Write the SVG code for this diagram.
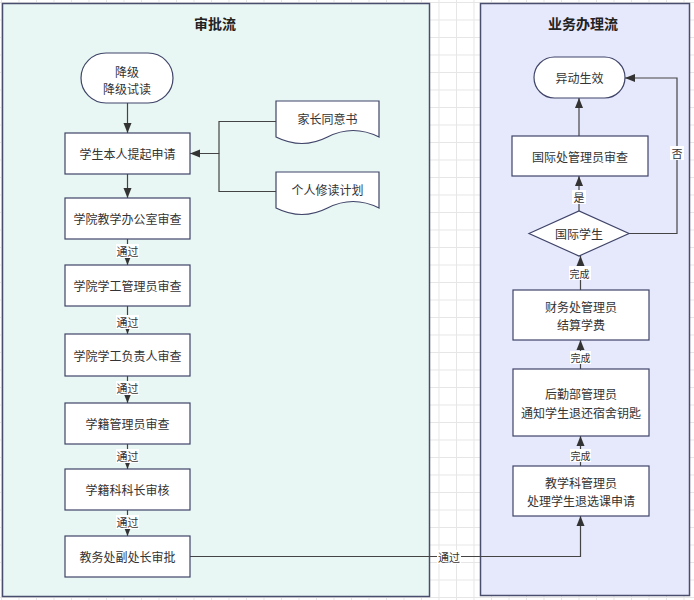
<svg xmlns="http://www.w3.org/2000/svg" width="694" height="600" viewBox="0 0 694 600">
<defs>
<pattern id="grid" patternUnits="userSpaceOnUse" x="1" y="2" width="17.5" height="17.5">
<path d="M0 0.5H17.5M0.5 0V17.5" stroke="#e6e6e6" stroke-width="1" fill="none"/>
</pattern>
<marker id="arr" markerUnits="userSpaceOnUse" markerWidth="10" markerHeight="10" viewBox="0 0 10 10" refX="10" refY="5" orient="auto">
<path d="M0 1L10 5L0 9Z" fill="#333"/>
</marker>
</defs>
<style>
text{font-family:"Noto Sans CJK SC","Noto Sans",sans-serif;fill:#333;text-anchor:middle;dominant-baseline:central}
.t{font-size:12px}
.title{font-size:14px;font-weight:bold;fill:#222}
.lbl{font-size:11px}
.lbs{font-size:10px}
.box{fill:#fff;stroke:#3f4468;stroke-width:1.2}
.lane{stroke:#4a4e6e;stroke-width:1.5}
.e{fill:none;stroke:#444;stroke-width:1.2}
.bg{fill:#fff}
</style>
<rect width="694" height="600" fill="#fff"/>
<rect width="694" height="600" fill="url(#grid)"/>

<g id="lane-approval">
<rect class="lane" x="2.5" y="3.5" width="427" height="593" fill="#e8f7f3"/>
<text class="title" x="215" y="23">审批流</text>
</g>
<g id="lane-business">
<rect class="lane" x="480.5" y="3.5" width="209" height="592" fill="#e6e8fc"/>
<text class="title" x="583" y="23">业务办理流</text>
</g>

<g id="connectors">
<path class="e" d="M127.5 103V133" marker-end="url(#arr)"/>
<path class="e" d="M276 121.5H219V153.5H190" marker-end="url(#arr)"/>
<path class="e" d="M276 191.5H219V153.5"/>
<path class="e" d="M127.5 174V198" marker-end="url(#arr)"/>
<path class="e" d="M127.5 239V265" marker-end="url(#arr)"/>
<path class="e" d="M127.5 306V334" marker-end="url(#arr)"/>
<path class="e" d="M127.5 376V403" marker-end="url(#arr)"/>
<path class="e" d="M127.5 444V469" marker-end="url(#arr)"/>
<path class="e" d="M127.5 510V536" marker-end="url(#arr)"/>
<path class="e" d="M190 556.5H580.5V516" marker-end="url(#arr)"/>
<path class="e" d="M580.5 466V436" marker-end="url(#arr)"/>
<path class="e" d="M580.5 369V340" marker-end="url(#arr)"/>
<path class="e" d="M580.5 290V256" marker-end="url(#arr)"/>
<path class="e" d="M579 211V176" marker-end="url(#arr)"/>
<path class="e" d="M579 136V98" marker-end="url(#arr)"/>
<path class="e" d="M629 233.5H677V78H625" marker-end="url(#arr)"/>

<rect class="bg" x="116" y="244" width="23" height="14"/>
<text class="lbl" x="127.5" y="251">通过</text>
<rect class="bg" x="116" y="315" width="23" height="14"/>
<text class="lbl" x="127.5" y="322">通过</text>
<rect class="bg" x="116" y="381" width="23" height="14"/>
<text class="lbl" x="127.5" y="388">通过</text>
<rect class="bg" x="116" y="449" width="23" height="14"/>
<text class="lbl" x="127.5" y="456">通过</text>
<rect class="bg" x="116" y="515" width="23" height="14"/>
<text class="lbl" x="127.5" y="522">通过</text>
<rect class="bg" x="437" y="550" width="24" height="14"/>
<text class="lbl" x="449" y="557">通过</text>
<rect class="bg" x="570" y="449" width="21" height="13"/>
<text class="lbs" x="580.5" y="455.5">完成</text>
<rect class="bg" x="570" y="351" width="21" height="13"/>
<text class="lbs" x="580.5" y="357.5">完成</text>
<rect class="bg" x="569" y="266" width="22" height="14"/>
<text class="lbs" x="579.5" y="273">完成</text>
<rect class="bg" x="572" y="190" width="14" height="14"/>
<text class="lbl" x="579" y="197">是</text>
<rect class="bg" x="670" y="146" width="14" height="14"/>
<text class="lbl" x="677" y="153">否</text>
</g>

<g id="start">
<rect class="box" x="81" y="53" width="92" height="50" rx="25"/>
<text class="t" x="127" y="71">降级</text>
<text class="t" x="127" y="88">降级试读</text>
</g>
<g id="doc-consent">
<path class="box" d="M276 101H379V137Q353 124 327.5 137T276 137Z"/>
<text class="t" x="327.5" y="118">家长同意书</text>
</g>
<g id="doc-plan">
<path class="box" d="M276 172H379V208Q353 195 327.5 208T276 208Z"/>
<text class="t" x="327.5" y="189">个人修读计划</text>
</g>
<g id="n1"><rect class="box" x="65" y="133" width="125" height="41"/><text class="t" x="127.5" y="153.5">学生本人提起申请</text></g>
<g id="n2"><rect class="box" x="65" y="198" width="125" height="41"/><text class="t" x="127.5" y="218.5">学院教学办公室审查</text></g>
<g id="n3"><rect class="box" x="65" y="265" width="125" height="41"/><text class="t" x="127.5" y="285.5">学院学工管理员审查</text></g>
<g id="n4"><rect class="box" x="65" y="334" width="125" height="42"/><text class="t" x="127.5" y="355">学院学工负责人审查</text></g>
<g id="n5"><rect class="box" x="65" y="403" width="125" height="41"/><text class="t" x="127.5" y="423.5">学籍管理员审查</text></g>
<g id="n6"><rect class="box" x="65" y="469" width="125" height="41"/><text class="t" x="127.5" y="489.5">学籍科科长审核</text></g>
<g id="n7"><rect class="box" x="65" y="536" width="125" height="41"/><text class="t" x="127.5" y="556.5">教务处副处长审批</text></g>

<g id="end"><rect class="box" x="534" y="57" width="91" height="41" rx="20.5"/><text class="t" x="579.5" y="77.5">异动生效</text></g>
<g id="r1"><rect class="box" x="512" y="136" width="136" height="40"/><text class="t" x="580" y="156">国际处管理员审查</text></g>
<g id="dec"><path class="box" d="M529 233.5L579 211L629 233.5L579 256Z"/><text class="t" x="579" y="233.5">国际学生</text></g>
<g id="r2"><rect class="box" x="513" y="290" width="136" height="50"/><text class="t" x="581" y="306">财务处管理员</text><text class="t" x="581" y="324">结算学费</text></g>
<g id="r3"><rect class="box" x="513" y="369" width="136" height="67"/><text class="t" x="581" y="393">后勤部管理员</text><text class="t" x="581" y="412">通知学生退还宿舍钥匙</text></g>
<g id="r4"><rect class="box" x="513" y="466" width="136" height="50"/><text class="t" x="581" y="482">教学科管理员</text><text class="t" x="581" y="500">处理学生退选课申请</text></g>
</svg>
